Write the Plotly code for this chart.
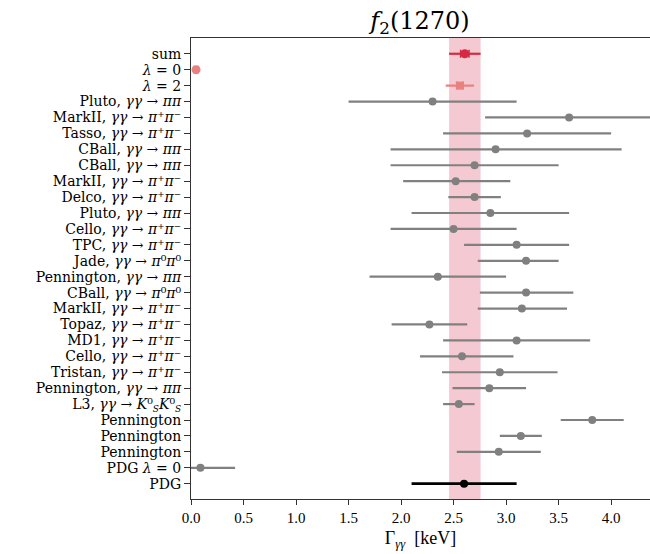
import plotly.graph_objects as go

# Row labels, top to bottom
KS = "<i>K</i>⁰<sub><span style='font-size:9px'><i>S</i></span></sub>"
labels = [
    "sum",
    "<i>λ</i> = 0",
    "<i>λ</i> = 2",
    "Pluto, <i>γγ</i> → <i>ππ</i>",
    "MarkII, <i>γγ</i> → <i>π</i>⁺<i>π</i>⁻",
    "Tasso, <i>γγ</i> → <i>π</i>⁺<i>π</i>⁻",
    "CBall, <i>γγ</i> → <i>ππ</i>",
    "CBall, <i>γγ</i> → <i>ππ</i>",
    "MarkII, <i>γγ</i> → <i>π</i>⁺<i>π</i>⁻",
    "Delco, <i>γγ</i> → <i>π</i>⁺<i>π</i>⁻",
    "Pluto, <i>γγ</i> → <i>ππ</i>",
    "Cello, <i>γγ</i> → <i>π</i>⁺<i>π</i>⁻",
    "TPC, <i>γγ</i> → <i>π</i>⁺<i>π</i>⁻",
    "Jade, <i>γγ</i> → <i>π</i>⁰<i>π</i>⁰",
    "Pennington, <i>γγ</i> → <i>ππ</i>",
    "CBall, <i>γγ</i> → <i>π</i>⁰<i>π</i>⁰",
    "MarkII, <i>γγ</i> → <i>π</i>⁺<i>π</i>⁻",
    "Topaz, <i>γγ</i> → <i>π</i>⁺<i>π</i>⁻",
    "MD1, <i>γγ</i> → <i>π</i>⁺<i>π</i>⁻",
    "Cello, <i>γγ</i> → <i>π</i>⁺<i>π</i>⁻",
    "Tristan, <i>γγ</i> → <i>π</i>⁺<i>π</i>⁻",
    "Pennington, <i>γγ</i> → <i>ππ</i>",
    "L3, <i>γγ</i> → " + KS + KS,
    "Pennington",
    "Pennington",
    "Pennington",
    "PDG <i>λ</i> = 0",
    "PDG",
]

# Combined result and helicity components [keV]
sum_val, sum_err, sum_stat = 2.607, 0.15, 0.04
lam0_val, lam0_err = 0.048, 0.02
lam2_val, lam2_err, lam2_stat = 2.56, 0.135, 0.03

# Measurements (rows 3..26): central value, lower error, upper error [keV]
meas_val = [2.30, 3.60, 3.20, 2.90, 2.70, 2.52, 2.70, 2.85, 2.50, 3.10, 3.19, 2.35,
            3.19, 3.15, 2.27, 3.10, 2.58, 2.94, 2.84, 2.55, 3.82, 3.14, 2.93, 0.09]
meas_lo = [0.80, 0.80, 0.80, 1.00, 0.80, 0.50, 0.25, 0.75, 0.60, 0.50, 0.46, 0.65,
           0.44, 0.42, 0.36, 0.70, 0.40, 0.55, 0.35, 0.15, 0.30, 0.20, 0.40, 0.09]
meas_hi = [0.80, 0.80, 0.80, 1.20, 0.80, 0.52, 0.25, 0.75, 0.60, 0.50, 0.31, 0.65,
           0.45, 0.43, 0.36, 0.70, 0.49, 0.55, 0.35, 0.15, 0.30, 0.20, 0.40, 0.33]

# PDG average [keV]
pdg_val, pdg_err = 2.6, 0.5

rows = list(range(len(labels)))
meas_rows = rows[3:3 + len(meas_val)]

RED = "#d42a44"
LIGHT = "#e8817f"
GRAY = "#808080"

fig = go.Figure()

# Band of the combined result
fig.add_shape(type="rect", xref="x", yref="paper",
              x0=sum_val - sum_err, x1=sum_val + sum_err, y0=0, y1=1,
              fillcolor="rgba(214,39,70,0.25)", line_width=0, layer="below")

# Measurements
fig.add_trace(go.Scatter(
    x=meas_val, y=meas_rows, mode="markers",
    marker=dict(color=GRAY, size=8),
    error_x=dict(type="data", array=meas_hi, arrayminus=meas_lo, symmetric=False,
                 color=GRAY, thickness=2.2, width=0),
))

# PDG
fig.add_trace(go.Scatter(
    x=[pdg_val], y=[rows[27]], mode="markers",
    marker=dict(color="black", size=8),
    error_x=dict(type="data", array=[pdg_err], color="black", thickness=2.8, width=0),
))

# sum: total error and inner capped error
fig.add_trace(go.Scatter(
    x=[sum_val], y=[rows[0]], mode="markers",
    marker=dict(color=RED, size=9),
    error_x=dict(type="data", array=[sum_err], color=RED, thickness=2.2, width=0),
))
fig.add_trace(go.Scatter(
    x=[sum_val], y=[rows[0]], mode="markers",
    marker=dict(color=RED, size=1),
    error_x=dict(type="data", array=[sum_stat], color=RED, thickness=1.5, width=4),
))

# lambda = 0
fig.add_trace(go.Scatter(
    x=[lam0_val], y=[rows[1]], mode="markers",
    marker=dict(color=LIGHT, size=9),
    error_x=dict(type="data", array=[lam0_err], color=LIGHT, thickness=1.5, width=4),
))

# lambda = 2
fig.add_trace(go.Scatter(
    x=[lam2_val], y=[rows[2]], mode="markers",
    marker=dict(color=LIGHT, size=8, symbol="square"),
    error_x=dict(type="data", array=[lam2_err], color=LIGHT, thickness=2.2, width=0),
))
fig.add_trace(go.Scatter(
    x=[lam2_val], y=[rows[2]], mode="markers",
    marker=dict(color=LIGHT, size=1),
    error_x=dict(type="data", array=[lam2_stat], color=LIGHT, thickness=1.5, width=4),
))

SERIF = "DejaVu Serif, Liberation Serif, serif"
SERIF2 = "Liberation Serif, DejaVu Serif, serif"

fig.update_layout(
    width=650, height=554,
    margin=dict(l=191, r=0, t=38, b=55),
    paper_bgcolor="white", plot_bgcolor="white",
    showlegend=False,
    font=dict(family=SERIF, color="black", size=14),
    title=dict(text="<i>f</i><sub>2</sub>(1270)", x=0.6462, xanchor="center",
               y=0.962, yanchor="middle", font=dict(size=24, family=SERIF)),
)

fig.update_xaxes(
    range=[0, 4.37], tickvals=[0, 0.5, 1, 1.5, 2, 2.5, 3, 3.5, 4],
    ticktext=["0.0", "0.5", "1.0", "1.5", "2.0", "2.5", "3.0", "3.5", "4.0"],
    ticks="outside", ticklen=5, tickwidth=1, tickcolor="#333",
    showline=True, linecolor="#333", linewidth=1, mirror=True,
    showgrid=False, zeroline=False,
    tickfont=dict(size=15, family=SERIF2),
    title=dict(text="Γ<sub><i>γγ</i></sub>  [keV]", font=dict(size=18, family=SERIF2),
               standoff=6),
)
fig.update_yaxes(
    range=[27.96, -0.99], tickvals=rows, ticktext=labels,
    ticks="outside", ticklen=6, tickwidth=1, tickcolor="#333",
    showline=True, linecolor="#333", linewidth=1,
    showgrid=False, zeroline=False,
    tickfont=dict(size=14, family=SERIF),
)

fig.write_html("out.html")
